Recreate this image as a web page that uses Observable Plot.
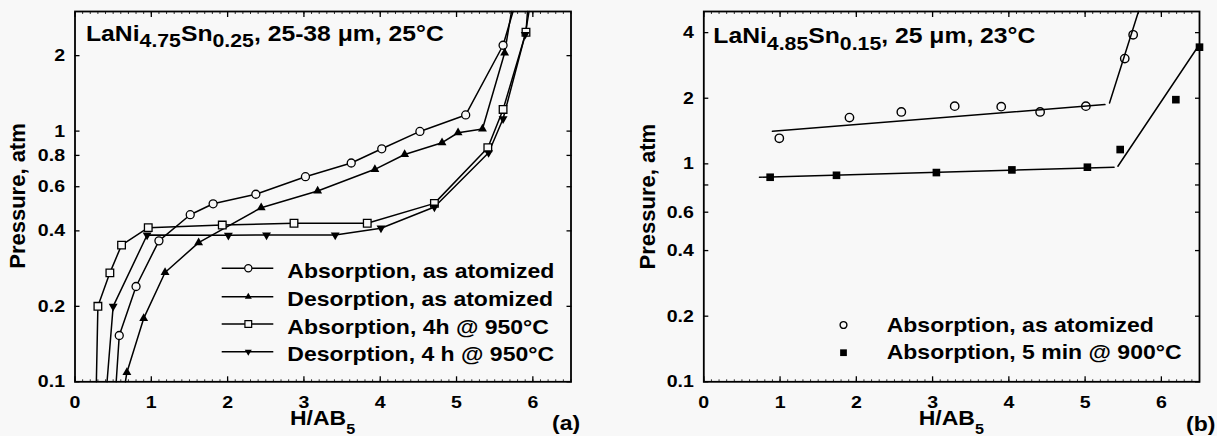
<!DOCTYPE html>
<html>
<head>
<meta charset="utf-8">
<script src="https://cdn.jsdelivr.net/npm/d3@7"></script>
<script src="https://cdn.jsdelivr.net/npm/@observablehq/plot@0.6"></script>
<style>
  html, body { margin: 0; padding: 0; background: #f8f8f8; }
  #wrap { position: relative; width: 1217px; height: 436px; overflow: hidden; }
  .panel { position: absolute; top: 0; }
  #pa { left: 0; width: 610px; }
  #pb { left: 610px; width: 607px; }
</style>
</head>
<body>
<div id="wrap"><div id="pa" class="panel"></div><div id="pb" class="panel"></div></div>
<script>
// ---------- shared axis data ----------
const xTicks = [0, 1, 2, 3, 4, 5, 6];
const xMinorTicks = d3.range(0, 6.51, 0.1);
const yTicksA = [0.1, 0.2, 0.4, 0.6, 0.8, 1, 2];
const yTicksB = [0.1, 0.2, 0.4, 0.6, 0.8, 1, 2, 4];

// ---------- panel (a): LaNi4.75Sn0.25 ----------
const seriesNamesA = ["Absorption, as atomized", "Desorption, as atomized",
                      "Absorption, 4h @ 950°C", "Desorption, 4 h @ 950°C"];
// Absorption, as atomized (open circles)
const absAtomX = [0.58, 0.80, 1.10, 1.51, 1.81, 2.37, 3.02, 3.62, 4.02, 4.52, 5.12, 5.61];
const absAtomY = [0.153, 0.240, 0.365, 0.464, 0.513, 0.560, 0.658, 0.746, 0.850, 0.997, 1.16, 2.20];
const absAtomEnds = [[0.54, 0.1], [5.74, 3]];
// Desorption, as atomized (filled up-triangles)
const desAtomX = [0.68, 0.90, 1.18, 1.62, 2.44, 3.18, 3.93, 4.32, 4.81, 5.02, 5.34, 5.63];
const desAtomY = [0.109, 0.179, 0.273, 0.359, 0.495, 0.577, 0.704, 0.807, 0.899, 0.985, 1.02, 2.05];
const desAtomEnds = [[0.66, 0.1], [5.72, 3]];
// Absorption, 4h @ 950°C (open squares)
const abs950X = [0.30, 0.457, 0.61, 0.96, 1.93, 2.87, 3.83, 4.71, 5.41, 5.61, 5.91];
const abs950Y = [0.200, 0.272, 0.351, 0.412, 0.422, 0.429, 0.429, 0.515, 0.858, 1.22, 2.48];
const abs950Ends = [[0.28, 0.1], [5.93, 3]];
// Desorption, 4 h @ 950°C (filled down-triangles)
const des950X = [0.50, 0.945, 2.01, 2.51, 3.41, 4.01, 4.71, 5.42, 5.61, 5.90];
const des950Y = [0.200, 0.385, 0.384, 0.385, 0.385, 0.41, 0.498, 0.82, 1.12, 2.43];
const des950Ends = [[0.42, 0.1], [5.95, 3]];

// ---------- panel (b): LaNi4.85Sn0.15 ----------
const seriesNamesB = ["Absorption, as atomized", "Absorption, 5 min @ 900°C"];
const bAtomX = [0.99, 1.91, 2.59, 3.29, 3.90, 4.41, 5.01, 5.52, 5.63];
const bAtomY = [1.31, 1.63, 1.73, 1.84, 1.83, 1.73, 1.84, 3.04, 3.91];
const bAtomFit1X = [0.90, 5.26], bAtomFit1Y = [1.41, 1.87];
const bAtomFit2X = [5.32, 5.70], bAtomFit2Y = [1.90, 5.0];
const b900X = [0.87, 1.74, 3.05, 4.04, 5.03, 5.46, 6.19, 6.50];
const b900Y = [0.868, 0.886, 0.912, 0.938, 0.965, 1.163, 1.97, 3.43];
const b900Fit1X = [0.73, 5.38], b900Fit1Y = [0.868, 0.965];
const b900Fit2X = [5.43, 6.49], b900Fit2Y = [0.975, 3.49];

// ---------- helpers ----------
const BG = "#f8f8f8";
const FONT = "'Liberation Sans', Arial, Helvetica, sans-serif";
const STRETCH = 1.15;
const zip = (xs, ys) => xs.map((x, i) => ({x, y: ys[i]}));
const withEnds = (xs, ys, ends) => [{x: ends[0][0], y: ends[0][1]}, ...zip(xs, ys), {x: ends[1][0], y: ends[1][1]}];

function frameAxes(yTicks) {
  const blank = () => "";
  return [
    Plot.axisX(xMinorTicks, {anchor: "bottom", tickSize: 2, dy: -2, tickFormat: blank, label: null, strokeWidth: 0.8}),
    Plot.axisX(xMinorTicks, {anchor: "top", tickSize: 2, dy: 2, tickFormat: blank, label: null, strokeWidth: 0.8}),
    Plot.axisX(xTicks, {anchor: "bottom", tickSize: 5, dy: -5, tickFormat: blank, label: null, strokeWidth: 1.3}),
    Plot.axisX(xTicks, {anchor: "top", tickSize: 5, dy: 5, tickFormat: blank, label: null, strokeWidth: 1.3}),
    Plot.axisY(yTicks, {anchor: "left", tickSize: 5, dx: 5, tickFormat: blank, label: null, strokeWidth: 1.3}),
    Plot.axisY(yTicks, {anchor: "right", tickSize: 5, dx: -5, tickFormat: blank, label: null, strokeWidth: 1.3}),
    Plot.axisX(xTicks, {anchor: "bottom", tickSize: 0, tickPadding: 14, label: null, tickFormat: d => String(d)}),
    Plot.axisY(yTicks, {anchor: "left", tickSize: 0, tickPadding: 10, label: null, tickFormat: d => String(d)}),
    Plot.frame({stroke: "black", strokeWidth: 1.8})
  ];
}

function stretchTickLabels(svg) {
  svg.querySelectorAll('g[aria-label$="tick label"] text').forEach(t => {
    t.setAttribute("transform", (t.getAttribute("transform") || "") + ` scale(${STRETCH},1)`);
  });
}

function richText(svg, x, y, parts, {size = 20, subSize = 14, subShift = 6, anchor = "start", stretch = STRETCH, rotate = 0} = {}) {
  const t = d3.select(svg).append("text")
    .attr("transform", `translate(${x},${y}) scale(${stretch},1)` + (rotate ? ` rotate(${rotate})` : ""))
    .attr("text-anchor", anchor)
    .attr("font-family", FONT).attr("font-weight", "bold")
    .attr("font-size", size).attr("fill", "black");
  let shifted = 0;
  for (const p of parts) {
    const s = t.append("tspan").text(p.t);
    const target = p.sub ? subShift : 0;
    if (target !== shifted) { s.attr("dy", target - shifted); shifted = target; }
    if (p.sub) s.attr("font-size", subSize);
  }
  return t;
}

function symbolPath(type, r) { return d3.symbol(type, Math.PI * r * r)(); }

const plotStyle = {background: "transparent", fontFamily: FONT, fontWeight: "bold", fontSize: "17px", color: "black", overflow: "visible"};

// ---------- panel (a) ----------
const svgA = Plot.plot({
  width: 610, height: 436,
  marginLeft: 74.5, marginRight: 39.5, marginTop: 11, marginBottom: 54.7,
  style: plotStyle,
  x: {domain: [0, 6.5]},
  y: {type: "log", domain: [0.1, 3]},
  marks: [
    Plot.line(withEnds(absAtomX, absAtomY, absAtomEnds), {x: "x", y: "y", stroke: "black", strokeWidth: 1.5}),
    Plot.line(withEnds(desAtomX, desAtomY, desAtomEnds), {x: "x", y: "y", stroke: "black", strokeWidth: 1.5}),
    Plot.line(withEnds(abs950X, abs950Y, abs950Ends), {x: "x", y: "y", stroke: "black", strokeWidth: 1.5}),
    Plot.line(withEnds(des950X, des950Y, des950Ends), {x: "x", y: "y", stroke: "black", strokeWidth: 1.5}),
    Plot.dot(zip(absAtomX, absAtomY), {x: "x", y: "y", symbol: "circle", r: 4, fill: BG, stroke: "black", strokeWidth: 1.3}),
    Plot.dot(zip(desAtomX, desAtomY), {x: "x", y: "y", symbol: "triangle", r: 3.3, fill: "black", stroke: "none"}),
    Plot.dot(zip(abs950X, abs950Y), {x: "x", y: "y", symbol: "square", r: 4.3, fill: BG, stroke: "black", strokeWidth: 1.3}),
    Plot.dot(zip(des950X, des950Y), {x: "x", y: "y", symbol: "triangle", rotate: 180, r: 3.3, fill: "black", stroke: "none"}),
    ...frameAxes(yTicksA)
  ]
});
document.getElementById("pa").appendChild(svgA);
stretchTickLabels(svgA);

// titles / labels (a)
richText(svgA, 86, 40.7, [{t: "LaNi"}, {t: "4.75", sub: true}, {t: "Sn"}, {t: "0.25", sub: true}, {t: ", 25-38 μm, 25°C"}],
  {size: 21.5, subSize: 18.5, subShift: 6.6});
richText(svgA, 322.5, 425, [{t: "H/AB"}, {t: "5", sub: true}], {size: 20, subSize: 14, subShift: 9, anchor: "middle"});
richText(svgA, 552, 430, [{t: "(a)"}], {size: 20});
richText(svgA, 24.5, 196, [{t: "Pressure, atm"}], {size: 22, anchor: "middle", stretch: 1, rotate: -90});

// legend (a)
{
  const g = d3.select(svgA).append("g");
  const rows = [268.3, 296.7, 324, 351.7];
  const syms = [
    {type: d3.symbolCircle, r: 3.6, fill: BG, stroke: "black", rot: 0},
    {type: d3.symbolTriangle, r: 2.6, fill: "black", stroke: "none", rot: 0},
    {type: d3.symbolSquare, r: 3.8, fill: BG, stroke: "black", rot: 0},
    {type: d3.symbolTriangle, r: 2.6, fill: "black", stroke: "none", rot: 180}
  ];
  seriesNamesA.forEach((name, i) => {
    const y = rows[i];
    g.append("line").attr("x1", 221.7).attr("x2", 273.3).attr("y1", y).attr("y2", y)
      .attr("stroke", "black").attr("stroke-width", 1.4);
    g.append("path").attr("d", symbolPath(syms[i].type, syms[i].r))
      .attr("transform", `translate(248.3,${y}) rotate(${syms[i].rot})`)
      .attr("fill", syms[i].fill).attr("stroke", syms[i].stroke).attr("stroke-width", 1.2);
    richText(svgA, 287.3, y + 9.5, [{t: name}], {size: 20});
  });
}

// ---------- panel (b) ----------
const svgB = Plot.plot({
  width: 607, height: 436,
  marginLeft: 93.3, marginRight: 18, marginTop: 11, marginBottom: 54.7,
  style: plotStyle,
  x: {domain: [0, 6.5]},
  y: {type: "log", domain: [0.1, 5]},
  marks: [
    Plot.line(zip(bAtomFit1X, bAtomFit1Y), {x: "x", y: "y", stroke: "black", strokeWidth: 1.5}),
    Plot.line(zip(bAtomFit2X, bAtomFit2Y), {x: "x", y: "y", stroke: "black", strokeWidth: 1.5}),
    Plot.line(zip(b900Fit1X, b900Fit1Y), {x: "x", y: "y", stroke: "black", strokeWidth: 1.5}),
    Plot.line(zip(b900Fit2X, b900Fit2Y), {x: "x", y: "y", stroke: "black", strokeWidth: 1.5}),
    Plot.dot(zip(bAtomX, bAtomY), {x: "x", y: "y", symbol: "circle", r: 4.2, fill: "none", stroke: "black", strokeWidth: 1.4}),
    Plot.dot(zip(b900X, b900Y), {x: "x", y: "y", symbol: "square", r: 4.3, fill: "black", stroke: "none"}),
    ...frameAxes(yTicksB)
  ]
});
document.getElementById("pb").appendChild(svgB);
stretchTickLabels(svgB);

richText(svgB, 103.3, 43.3, [{t: "LaNi"}, {t: "4.85", sub: true}, {t: "Sn"}, {t: "0.15", sub: true}, {t: ", 25 μm, 23°C"}],
  {size: 21.5, subSize: 18.5, subShift: 6.6});
richText(svgB, 341.3, 425, [{t: "H/AB"}, {t: "5", sub: true}], {size: 20, subSize: 14, subShift: 9, anchor: "middle"});
richText(svgB, 576, 430.7, [{t: "(b)"}], {size: 20});
richText(svgB, 44.5, 196.7, [{t: "Pressure, atm"}], {size: 22, anchor: "middle", stretch: 1, rotate: -90});

// legend (b)
{
  const g = d3.select(svgB).append("g");
  const rows = [325, 352.7];
  g.append("path").attr("d", symbolPath(d3.symbolCircle, 3.4))
    .attr("transform", `translate(233.5,${rows[0]})`).attr("fill", "none").attr("stroke", "black").attr("stroke-width", 1.4);
  g.append("path").attr("d", symbolPath(d3.symbolSquare, 3.8))
    .attr("transform", `translate(233.5,${rows[1]})`).attr("fill", "black");
  seriesNamesB.forEach((name, i) => richText(svgB, 276.7, rows[i] + 6.7, [{t: name}], {size: 20}));
}
</script>
</body>
</html>
